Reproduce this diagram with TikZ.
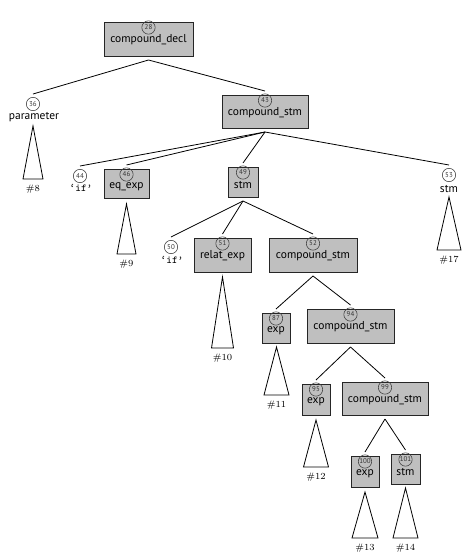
\documentclass[tikz,border=0pt]{standalone}
\usepackage{fontspec}
\newfontfamily\lblfont{PT Sans}
\begin{document}
\begin{tikzpicture}[x=0.75pt,y=-0.75pt,
  treebox/.style={draw=black!85,line width=0.7pt,fill=black!25,inner sep=0pt,outer sep=3pt},
  numcirc/.style={draw=black!75,line width=0.45pt,circle,inner sep=0pt,minimum size=10pt,font=\lblfont\fontsize{5.2}{6}\selectfont,text=black!80},
  lbl/.style={font=\lblfont\fontsize{8.6}{10}\selectfont,inner sep=0pt},
  leaf/.style={font=\fontsize{7}{8}\selectfont,inner sep=0pt},
  tok/.style={font=\ttfamily\fontsize{8}{9}\selectfont,inner sep=0pt},
  edge/.style={line width=0.6pt},
  tri/.style={line width=0.6pt}]
\useasboundingbox (0,0) rectangle (469,557);

% helper for boxed tree nodes
\newcommand{\tbox}[7]{% name, cx, cy, w, h, num, label
  \node[treebox,minimum width=#4*0.75pt,minimum height=#5*0.75pt] (#1) at (#2,#3) {};
  \node[numcirc] (#1c) at ([yshift=-9.5*0.75pt]#1.north) {#6};
  \node[lbl] (#1t) at ([yshift=-22*0.75pt]#1.north) {#7};
}

\tbox{n28}{148.5}{39}{89}{34}{28}{compound\_decl}
\tbox{n43}{265}{111.5}{86}{33}{43}{compound\_stm}
\tbox{n46}{126.5}{183.5}{45}{29}{46}{eq\_exp}
\tbox{n49}{243}{182}{30}{30}{49}{stm}
\tbox{n51}{222.5}{255}{57}{34}{51}{relat\_exp}
\tbox{n52}{313}{255}{88}{34}{52}{compound\_stm}
\tbox{n87}{276}{328}{28}{30}{87}{exp}
\tbox{n94}{350.5}{326}{87}{34}{94}{compound\_stm}
\tbox{n95}{316}{399.5}{28}{31}{95}{exp}
\tbox{n99}{385}{398.5}{86}{33}{99}{compound\_stm}
\tbox{n100}{365}{471.5}{28}{31}{100}{exp}
\tbox{n101}{405.5}{469}{29}{30}{101}{stm}

% unboxed nodes
\node[numcirc,outer sep=2.5pt] (n36) at (33,104) {36};
\node[lbl] (n36t) at (34,117) {parameter};
\node[numcirc,outer sep=2.5pt] (n44) at (80,176) {44};
\node[tok] (n44t) at (81,188) {‘if’};
\node[numcirc,outer sep=2.5pt] (n50) at (171,247) {50};
\node[tok] (n50t) at (172,260) {‘if’};
\node[numcirc,outer sep=2.5pt] (n53) at (449,175) {53};
\node[lbl] (n53t) at (449,189) {stm};

% edges
\draw[edge] (n28.south) -- (n36.north);
\draw[edge] (n28.south) -- (n43.north);
\draw[edge] (n43.south) -- (n44.north);
\draw[edge] (n43.south) -- (n46.north);
\draw[edge] (n43.south) -- (n49.north);
\draw[edge] (n43.south) -- (n53.north);
\draw[edge] (n49.south) -- (n50.north);
\draw[edge] (n49.south) -- (n51.north);
\draw[edge] (n49.south) -- (n52.north);
\draw[edge] (n52.south) -- (n87.north);
\draw[edge] (n52.south) -- (n94.north);
\draw[edge] (n94.south) -- (n95.north);
\draw[edge] (n94.south) -- (n99.north);
\draw[edge] (n99.south) -- (n100.north);
\draw[edge] (n99.south) -- (n101.north);

% subtree triangles
\newcommand{\subtri}[6]{% name, apex x, apex y, half width, base y, label
  \coordinate (#1a) at (#2,#3);
  \draw[tri] (#1a) -- (#2-#4,#5) -- (#2+#4,#5) -- cycle;
  \node[leaf] (#1l) at (#2,#5+10) {#6};
}
\subtri{t8}{33}{126}{10}{179}{\#8}
\subtri{t9}{126.5}{204}{9.5}{254}{\#9}
\subtri{t10}{222.5}{277}{11}{348}{\#10}
\subtri{t11}{276.5}{347}{12.5}{395}{\#11}
\subtri{t12}{316}{420}{12.5}{467}{\#12}
\subtri{t13}{365}{492}{13}{538}{\#13}
\subtri{t14}{405.5}{488}{12.5}{538}{\#14}
\subtri{t17}{449}{197}{12}{250}{\#17}
\end{tikzpicture}
\end{document}
